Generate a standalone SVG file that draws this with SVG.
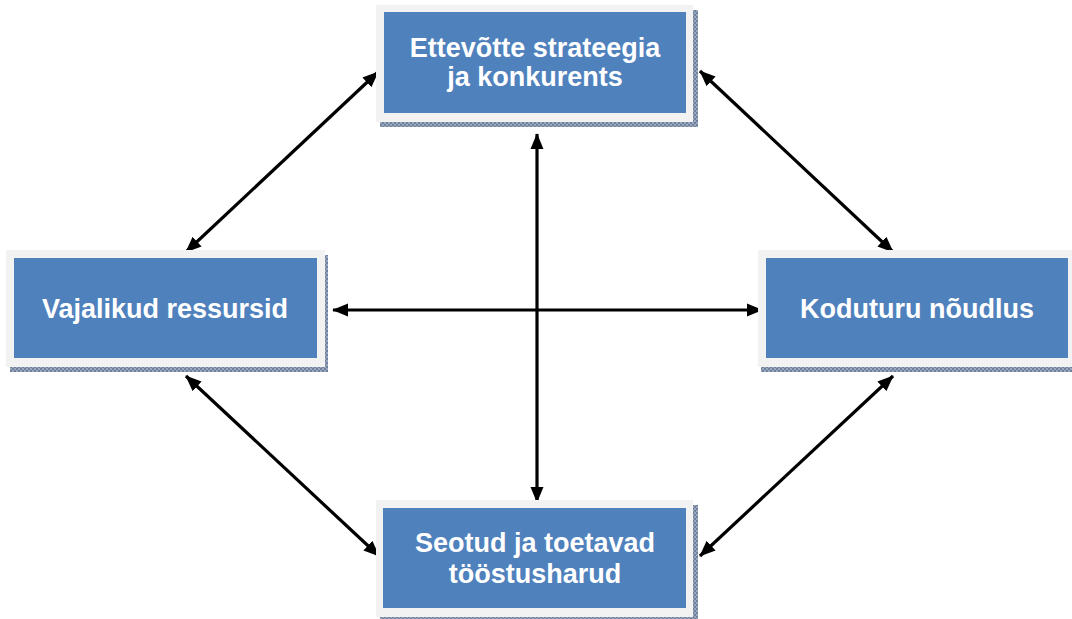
<svg xmlns="http://www.w3.org/2000/svg" width="1072" height="619" viewBox="0 0 1072 619">
  <defs>
    <style>
      .frame { fill: #f2f2f2; }
      .box { fill: #4f81bd; }
      .shadow { fill: url(#hatch); }
      .label { font-family: "Liberation Sans", Arial, sans-serif; font-weight: bold; font-size: 27px; fill: #ffffff; text-anchor: middle; }
      .link { stroke: #000000; stroke-width: 3.2; fill: none; marker-start: url(#head); marker-end: url(#head); }
    </style>
    <pattern id="hatch" width="4" height="4" patternUnits="userSpaceOnUse">
      <rect width="4" height="4" fill="#9aa8bd"/>
      <rect width="2" height="2" fill="#6f819d"/>
      <rect x="2" y="2" width="2" height="2" fill="#6f819d"/>
    </pattern>
    <marker id="head" viewBox="0 0 10 10" refX="9.5" refY="5" markerWidth="5" markerHeight="5" orient="auto-start-reverse" markerUnits="strokeWidth">
      <path d="M0,0.9 L10,5 L0,9.1 z" fill="#000000"/>
    </marker>
  </defs>

  <!-- connectors -->
  <g id="connectors">
    <line class="link" x1="378" y1="72" x2="186" y2="252"/>
    <line class="link" x1="700" y1="71" x2="893" y2="252"/>
    <line class="link" x1="186" y1="376" x2="379" y2="556"/>
    <line class="link" x1="893" y1="376" x2="700" y2="556"/>
    <line class="link" x1="333" y1="310" x2="762" y2="310"/>
    <line class="link" x1="537" y1="134" x2="537" y2="502"/>
  </g>

  <!-- top: strategy -->
  <g id="node-strategy">
    <rect class="shadow" x="380" y="10" width="318" height="117"/>
    <rect class="frame" x="376" y="5" width="317" height="117"/>
    <rect class="box" x="384" y="12" width="302" height="101"/>
    <text class="label" x="535" y="57">Ettevõtte strateegia</text>
    <text class="label" x="535" y="86">ja konkurents</text>
  </g>

  <!-- left: resources -->
  <g id="node-resources">
    <rect class="shadow" x="10" y="255" width="318" height="117"/>
    <rect class="frame" x="6" y="250" width="319" height="117"/>
    <rect class="box" x="14" y="258" width="303" height="100"/>
    <text class="label" x="165" y="318">Vajalikud ressursid</text>
  </g>

  <!-- right: home demand -->
  <g id="node-demand">
    <rect class="shadow" x="761" y="255" width="315" height="117"/>
    <rect class="frame" x="758" y="250" width="318" height="117"/>
    <rect class="box" x="766" y="258" width="302" height="100"/>
    <text class="label" x="917" y="318">Koduturu nõudlus</text>
  </g>

  <!-- bottom: related industries -->
  <g id="node-industries">
    <rect class="shadow" x="380" y="505" width="318" height="117"/>
    <rect class="frame" x="376" y="500" width="317" height="117"/>
    <rect class="box" x="383" y="508" width="303" height="100"/>
    <text class="label" x="535" y="552">Seotud ja toetavad</text>
    <text class="label" x="535" y="583">tööstusharud</text>
  </g>
</svg>
